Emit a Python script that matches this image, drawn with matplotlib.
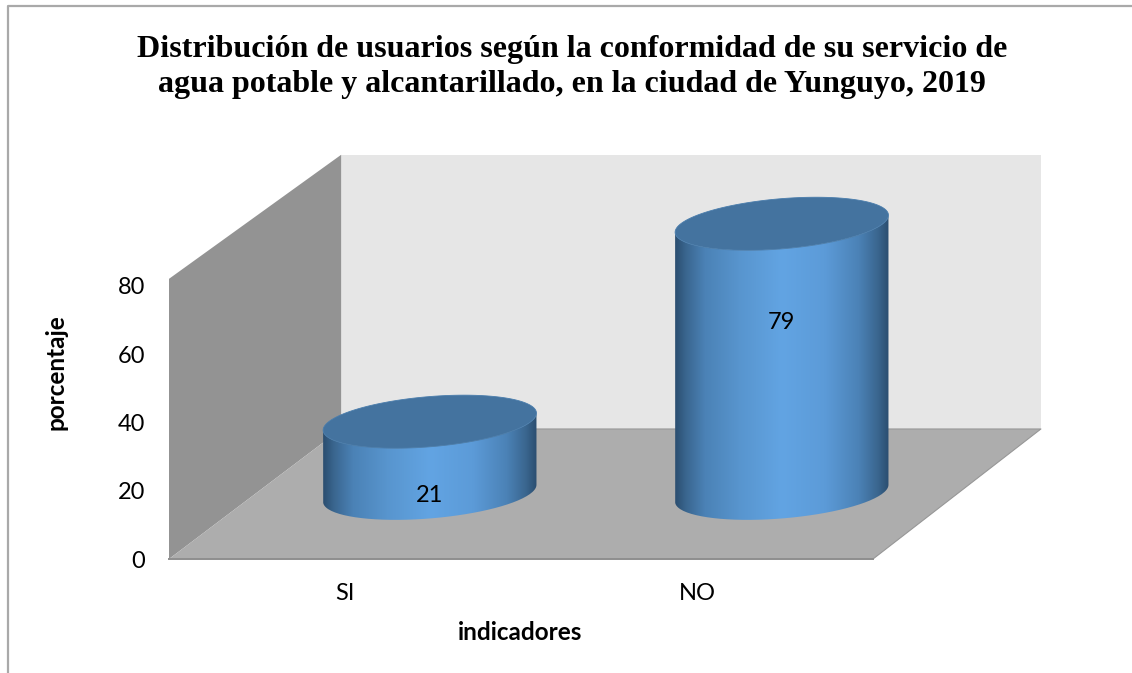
import matplotlib
matplotlib.use('Agg')
import matplotlib.pyplot as plt
import numpy as np
from matplotlib.colors import LinearSegmentedColormap
from matplotlib.patches import PathPatch, Polygon
from matplotlib.path import Path

categories = ['SI', 'NO']
values = [21, 79]
yticks = [0, 20, 40, 60, 80]

title = ('Distribución de usuarios según la conformidad de su servicio de\n'
         'agua potable y alcantarillado, en la ciudad de Yunguyo, 2019')
xlabel = 'indicadores'
ylabel = 'porcentaje'

# depth of the fake 3d box, in data units
back_dx_left = 0.489
back_dx_right = 0.477
back_dy = 38.1
front_height = 82.1
wall_height = 80.35
# cylinder shape
cyl_depth = 0.505
cyl_a = 0.287
cyl_b = 0.204
label_frac = [0.0, 0.64]
label_shift = -0.6

side_cmap = LinearSegmentedColormap.from_list('side', [
    (0.00, '#2b4e70'), (0.05, '#3a668f'), (0.14, '#4b82b6'), (0.30, '#5895ce'),
    (0.50, '#62a4e3'), (0.70, '#5c9bd8'), (0.86, '#4b82b6'), (0.95, '#3a668f'),
    (1.00, '#2b4e70')])


def draw_box(ax):
    x0, x1 = ax.get_xlim()
    floor = [(x0, 0), (x1, 0), (x1 + back_dx_right, back_dy), (x0 + back_dx_left, back_dy)]
    back = [(x0 + back_dx_left, back_dy), (x1 + back_dx_right, back_dy),
            (x1 + back_dx_right, back_dy + wall_height), (x0 + back_dx_left, back_dy + wall_height)]
    left = [(x0, 0), (x0 + back_dx_left, back_dy), (x0 + back_dx_left, back_dy + wall_height),
            (x0, front_height)]
    ax.add_patch(Polygon(back, closed=True, fc='#e6e6e6', ec='none', clip_on=False, zorder=1))
    ax.add_patch(Polygon(left, closed=True, fc='#939393', ec='none', clip_on=False, zorder=1))
    ax.add_patch(Polygon(floor, closed=True, fc='#adadad', ec='none', clip_on=False, zorder=2))
    ax.plot([x0, x1, x1 + back_dx_right, x0 + back_dx_left],
            [0, 0, back_dy, back_dy], color='#979797', lw=0.8, clip_on=False, zorder=3)
    ax.plot([x0, x1], [0, 0], color='#8f8f8f', lw=1.4, clip_on=False, zorder=3)


def draw_cylinder(ax, pos, value):
    bx = back_dx_right * cyl_b
    by = back_dy * cyl_b
    cx = pos + back_dx_right * cyl_depth
    cy = back_dy * cyl_depth
    half_w = np.hypot(cyl_a, bx)
    t_r = np.arctan2(bx, cyl_a)
    t = np.linspace(t_r, t_r - np.pi, 80)
    xs = cx + cyl_a * np.cos(t) + bx * np.sin(t)
    ys = cy + by * np.sin(t)
    verts = np.vstack([np.c_[xs, ys + value], np.c_[xs[::-1], ys[::-1]]])
    clip = PathPatch(Path(np.vstack([verts, verts[0]])), transform=ax.transData,
                     fc='none', ec='none')
    ax.add_patch(clip)
    grad = np.linspace(0, 1, 256).reshape(1, -1)
    im = ax.imshow(grad, cmap=side_cmap, aspect='auto', zorder=4,
                   extent=[cx - half_w, cx + half_w, cy - by, cy + value + by])
    im.set_clip_box(ax.figure.bbox)
    im.set_clip_path(clip)
    t = np.linspace(0, 2 * np.pi, 160)
    top = np.c_[cx + cyl_a * np.cos(t) + bx * np.sin(t), cy + value + by * np.sin(t)]
    ax.add_patch(Polygon(top, closed=True, fc='#44739f', ec='#4a7dac', lw=0.6,
                         clip_on=False, zorder=5))
    return cx, cy


fig = plt.figure(figsize=(11.32, 6.73), dpi=100)
plt.rcParams['font.family'] = ['Lato', 'DejaVu Sans']

# outer chart frame, only the top and left edges are in the picture
fig.add_artist(plt.Line2D([8 / 1132, 8 / 1132, 1], [0, 1 - 6 / 673, 1 - 6 / 673],
                          color='#a9a9a9', lw=1.6))

ax = fig.add_axes([169 / 1132, 1 - 559 / 673, 704 / 1132, 273 / 673])
ax.set_xlim(-0.5, 1.5)
ax.set_ylim(0, 80)
ax.patch.set_visible(False)
for s in ax.spines.values():
    s.set_visible(False)

draw_box(ax)
for i, v in enumerate(values):
    cx, cy = draw_cylinder(ax, i, v)
    ax.text(cx, cy + v * label_frac[i] + label_shift, str(v), ha='center', va='center',
            fontsize=17, color='black', zorder=6)
ax.set_xlim(-0.5, 1.5)
ax.set_ylim(0, 80)

ax.set_xticks(range(len(categories)))
ax.set_xticklabels(categories, fontsize=17)
ax.set_yticks(yticks)
ax.tick_params(axis='both', length=0, labelsize=17)
ax.tick_params(axis='x', pad=17)
ax.tick_params(axis='y', pad=17)

fig.text(520 / 1132, 1 - 633 / 673, xlabel, ha='center', va='center', fontsize=17.5, fontweight='bold')
fig.text(56 / 1132, 1 - 372 / 673, ylabel, rotation=90, ha='center', va='center', fontsize=17.5,
         fontweight='bold')
fig.text(572 / 1132, 1 - 67 / 673, title, ha='center', va='center', fontsize=23, fontweight='bold',
         family='Liberation Serif', linespacing=1.28)

fig.savefig('out.png', dpi=100)
plt.close()
